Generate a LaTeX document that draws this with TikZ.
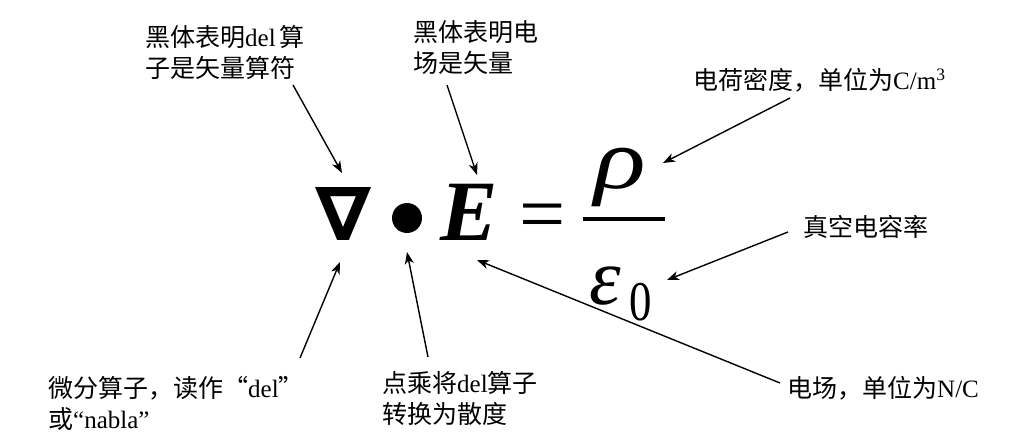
\documentclass[tikz,border=0pt]{standalone}
\usepackage{graphicx}
\usepackage{fontspec}
\setmainfont{Liberation Serif}
\newfontfamily\cjk{Noto Sans CJK SC}
\newfontfamily\symfont{DejaVu Sans}
\usetikzlibrary{arrows.meta}
\newcommand\zh[1]{{\cjk #1}}
\begin{document}
\begin{tikzpicture}[x=1pt,y=-1pt,
  lab/.style={font=\fontsize{25}{31}\selectfont, align=left, inner sep=0, anchor=west},
  arr/.style={line width=1.4pt, -{Stealth[length=12pt,width=9pt,inset=3.5pt]}},
  sym/.style={inner sep=0, anchor=base west}]
\useasboundingbox (0,0) rectangle (1036,441);
% labels
\node[lab] (tl) at (145,52) {\zh{黑体表明}del\,\zh{算}\\\zh{子是矢量算符}};
\node[lab] (tm) at (413,47.5) {\zh{黑体表明电}\\\zh{场是矢量}};
\node[lab] (lrho) at (693,80) {\zh{电荷密度，单位为}C/m\textsuperscript{3}};
\node[lab] (leps) at (803,227) {\zh{真空电容率}};
\node[lab] (lE) at (787,388) {\zh{电场，单位为}N/C};
\node[lab] (bl) at (48,403) {\zh{微分算子，读作“}del\zh{”}\\\zh{或}“nabla”};
\node[lab] (bm) at (382,398) {\zh{点乘将}del\zh{算子}\\\zh{转换为散度}};
% equation
\node[inner sep=0] (nabla) at (344,213.5) {\resizebox{56pt}{53pt}{\symfont\bfseries ∇}};
\node[circle, fill=black, minimum size=30pt, inner sep=0] (dot) at (407,218) {};
\node[sym, font=\fontsize{86}{86}\selectfont\bfseries\itshape] (E) at (440,240) {E};
\node[sym, anchor=base, font=\fontsize{82}{82}\selectfont] (eq) at (543,241) {=};
\node[fill=black, minimum width=82pt, minimum height=4pt, inner sep=0] (bar) at (624,219) {};
\node[sym, font=\fontsize{86}{86}\selectfont\itshape] (rho) at (594,188) {\scalebox{1.25}[1]{ρ}};
\node[sym, font=\fontsize{80}{80}\selectfont\itshape] (eps) at (589,304) {ε};
\node[sym, font=\fontsize{56}{56}\selectfont] (zero) at (629,320) {\scalebox{0.8}[1]{0}};
% arrow end points
\coordinate (s1) at (293,85);  \coordinate (t1) at (342,173);
\coordinate (s2) at (447,85);  \coordinate (t2) at (477,175);
\coordinate (s3) at (790,98);  \coordinate (t3) at (663,163);
\coordinate (s4) at (788,232); \coordinate (t4) at (667,280);
\coordinate (s5) at (780,383); \coordinate (t5) at (477,260);
\coordinate (s6) at (300,358); \coordinate (t6) at (340,262);
\coordinate (s7) at (428,357); \coordinate (t7) at (407,252);
\draw[arr] (s1) -- (t1);
\draw[arr] (s2) -- (t2);
\draw[arr] (s3) -- (t3);
\draw[arr] (s4) -- (t4);
\draw[arr] (s5) -- (t5);
\draw[arr] (s6) -- (t6);
\draw[arr] (s7) -- (t7);
\end{tikzpicture}
\end{document}
